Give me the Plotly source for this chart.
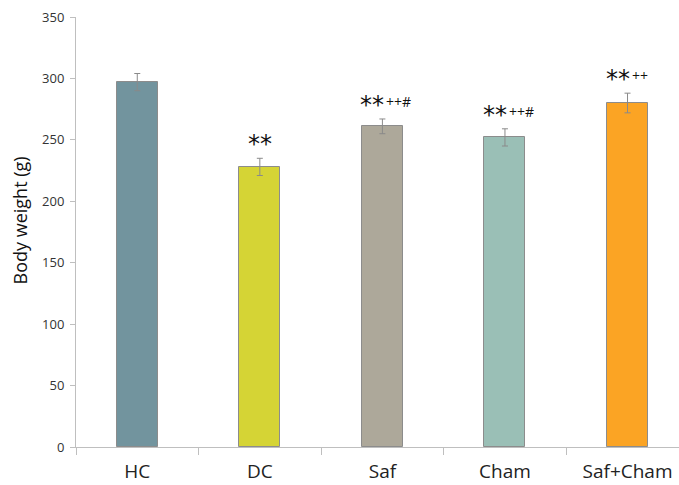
import plotly.graph_objects as go

# Group means and error (g)
groups = ["HC", "DC", "Saf", "Cham", "Saf+Cham"]
body_weight = [297, 228, 261, 252, 280]
error = [7, 7, 6, 7, 8]
stars = ["", "**", "**", "**", "**"]
marks = ["", "", "++#", "++#", "++"]
colors = ["#72949E", "#D5D435", "#ADA89A", "#9ABFB6", "#FBA424"]

x_pos = list(range(len(groups)))

fig = go.Figure()
fig.add_trace(go.Bar(
    x=x_pos,
    y=body_weight,
    width=0.335,
    marker=dict(color=colors, line=dict(color="#8C8C8C", width=1)),
    error_y=dict(type="data", array=error, color="#8A8A8A", thickness=1, width=3),
    showlegend=False,
))

# Significance labels above each bar: stars, then the smaller marks
for xi, yv, e, s, m in zip(x_pos, body_weight, error, stars, marks):
    if not s:
        continue
    if m:
        fig.add_annotation(
            x=xi, y=yv + e, text=s, showarrow=False,
            xanchor="right", yanchor="bottom", xshift=4, yshift=-2,
            font=dict(family="DejaVu Sans", size=24, color="#111111"),
        )
        fig.add_annotation(
            x=xi, y=yv + e, text=m, showarrow=False,
            xanchor="left", yanchor="bottom", xshift=2, yshift=6,
            font=dict(family="Open Sans", size=14, color="#111111"),
        )
    else:
        fig.add_annotation(
            x=xi, y=yv + e, text=s, showarrow=False,
            xanchor="center", yanchor="bottom", yshift=-2,
            font=dict(family="DejaVu Sans", size=24, color="#111111"),
        )

# Y-axis title
fig.add_annotation(
    xref="paper", yref="paper", x=-0.0935, y=0.526,
    text="Body weight (g)", textangle=-90, showarrow=False,
    xanchor="center", yanchor="middle",
    font=dict(family="Open Sans", size=18, color="#111111"),
)

fig.update_layout(
    width=679, height=485,
    margin=dict(l=76, r=0, t=17, b=38),
    paper_bgcolor="white", plot_bgcolor="white",
    bargap=0,
    font=dict(family="Open Sans", color="#222222"),
    xaxis=dict(
        range=[-0.5, 4.42],
        tickvals=x_pos, ticktext=groups,
        ticks="", showgrid=False, zeroline=False,
        showline=True, linecolor="#BFBFBF", linewidth=1,
        tickfont=dict(size=19, family="Open Sans", color="#222222"),
        ticklabelstandoff=7,
        minor=dict(tick0=-0.5, dtick=1, ticks="outside", ticklen=7,
                   tickcolor="#BFBFBF", showgrid=False),
    ),
    yaxis=dict(
        range=[0, 350], tickvals=[0, 50, 100, 150, 200, 250, 300, 350],
        ticks="outside", ticklen=5, tickcolor="#BFBFBF",
        showgrid=False, zeroline=False,
        showline=True, linecolor="#BFBFBF", linewidth=1,
        tickfont=dict(size=13, color="#333333"),
        ticklabelstandoff=3,
    ),
)

fig.write_html("out.html")
